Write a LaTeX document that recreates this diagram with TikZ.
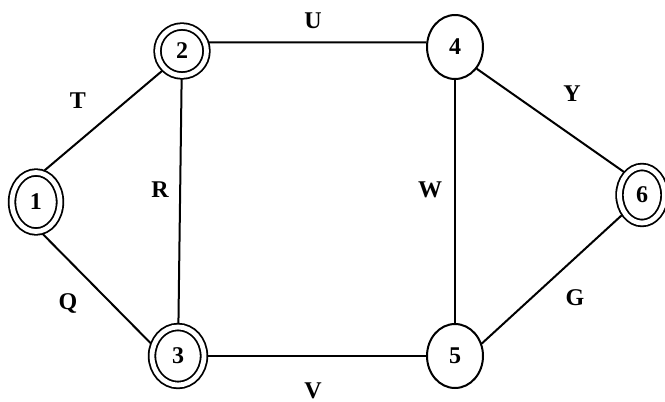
\documentclass[tikz,border=0pt]{standalone}
\usepackage{fontspec}
\setmainfont{Liberation Serif}
\usepackage{tikz}
\usetikzlibrary{shapes.geometric}

\begin{document}
\begin{tikzpicture}[
    x=0.5pt, y=-0.5pt,
    every node/.style={font=\large\bfseries},
    state/.style={draw, ellipse, line width=1pt, inner sep=0pt,
                  minimum width=28pt, minimum height=32pt},
    accept/.style={state, double, double distance=2.4pt, outer sep=1.8pt,
                   line width=0.9pt},
    link/.style={line width=1pt},
]
\useasboundingbox (0,0) rectangle (665,402);

%% States
\node[accept, minimum width=24pt, minimum height=29.5pt]   (n1) at (36,202) {1};
\node[accept, minimum width=24.5pt, minimum height=24.5pt] (n2) at (182,51) {2};
\node[accept, minimum width=26pt, minimum height=29pt]     (n3) at (178,356) {3};
\node[state] (n4) at (455,47)  {4};
\node[state] (n5) at (455,356) {5};
\node[accept, minimum width=22.5pt, minimum height=28pt]   (n6) at (642,195) {6};

%% Links
\draw[link] (n1.75)  -- (n2.225);
\draw[link] (n1.-78) -- (n3.155);
\draw[link] (n2.18)  -- (n4.171);
\draw[link] (n2)     -- (n3);
\draw[link] (n3)     -- (n5);
\draw[link] (n4)     -- (n5);
\draw[link] (n4.-45) -- (n6.128);
\draw[link] (n5.25)  -- (n6.225);

%% Link labels
\node (lT) at (78,101)  {T};
\node (lU) at (313,21)  {U};
\node (lR) at (160,190) {R};
\node (lW) at (430,190) {W};
\node (lY) at (572,94)  {Y};
\node (lQ) at (68,303)  {Q};
\node (lG) at (575,298) {G};
\node (lV) at (313,391) {V};

\end{tikzpicture}
\end{document}
